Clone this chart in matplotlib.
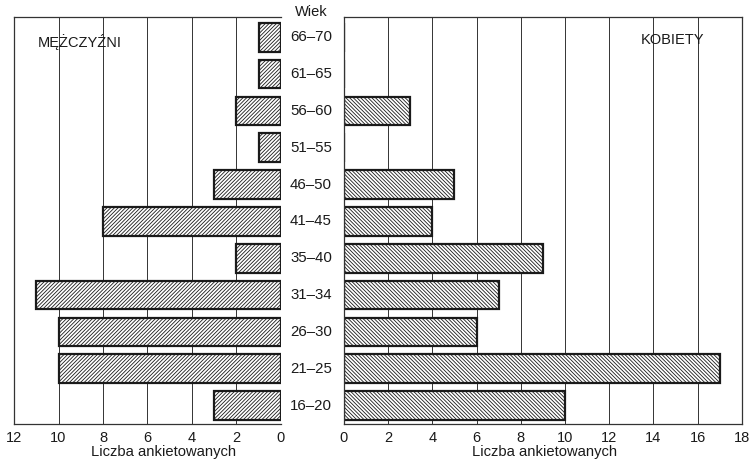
import matplotlib
matplotlib.use("Agg")
import matplotlib.pyplot as plt
from matplotlib.transforms import blended_transform_factory

plt.rcParams['font.family'] = ['Liberation Sans', 'DejaVu Sans']
plt.rcParams['hatch.linewidth'] = 0.6

# age groups, bottom to top
ages = ['16–20', '21–25', '26–30', '31–34', '35–40', '41–45',
        '46–50', '51–55', '56–60', '61–65', '66–70']
men = [3, 10, 10, 11, 2, 8, 3, 1, 2, 1, 1]
women = [10, 17, 6, 7, 9, 4, 5, 0, 3, 0, 0]
men_ticks = [0, 2, 4, 6, 8, 10, 12]
women_ticks = [0, 2, 4, 6, 8, 10, 12, 14, 16, 18]

fig = plt.figure(figsize=(7.54, 4.62), dpi=100)
ax_l = fig.add_axes([0.0186, 0.0823, 0.354, 0.881])
ax_r = fig.add_axes([0.456, 0.0823, 0.528, 0.881])

ypos = list(range(len(ages)))
ylim = (-0.5, len(ages) - 0.45)

for ax, vals, ticks, hatch in [(ax_l, men, men_ticks, '/' * 9),
                               (ax_r, women, women_ticks, '\\' * 9)]:
    for x in ticks[1:-1]:
        ax.axvline(x, color='#333333', lw=0.7, zorder=0)
    ax.barh(ypos, vals, height=0.78, color='white', edgecolor='#1a1a1a',
            hatch=hatch, lw=1.6, zorder=2)
    ax.set_xlim(0, ticks[-1])
    ax.set_ylim(*ylim)
    ax.set_xticks(ticks)
    ax.set_yticks([])
    ax.tick_params(axis='x', length=0, labelsize=10.5, pad=5, colors='#1a1a1a')
    for s in ax.spines.values():
        s.set_color('#333333')
        s.set_linewidth(0.9)

ax_l.invert_xaxis()
ax_l.spines['right'].set_visible(False)

# age labels between the panels
tr = blended_transform_factory(fig.transFigure, ax_l.transData)
for y, a in zip(ypos, ages):
    fig.text(311 / 754, y, a, transform=tr, ha='center', va='center',
             fontsize=10.8, color='#1a1a1a')
fig.text(311 / 754, 1 - 12 / 462, 'Wiek', ha='center', va='center',
         fontsize=10.5, color='#1a1a1a')

fig.text(80 / 754, 1 - 42 / 462, 'MĘŻCZYŹNI', ha='center', va='center',
         fontsize=10.5, color='#1a1a1a')
fig.text(673 / 754, 1 - 40 / 462, 'KOBIETY', ha='center', va='center',
         fontsize=10.5, color='#1a1a1a')

fig.text(164 / 754, 1 - 452 / 462, 'Liczba ankietowanych', ha='center',
         va='center', fontsize=10.6, color='#1a1a1a')
fig.text(545 / 754, 1 - 452 / 462, 'Liczba ankietowanych', ha='center',
         va='center', fontsize=10.6, color='#1a1a1a')

fig.savefig('out.png', dpi=100)
